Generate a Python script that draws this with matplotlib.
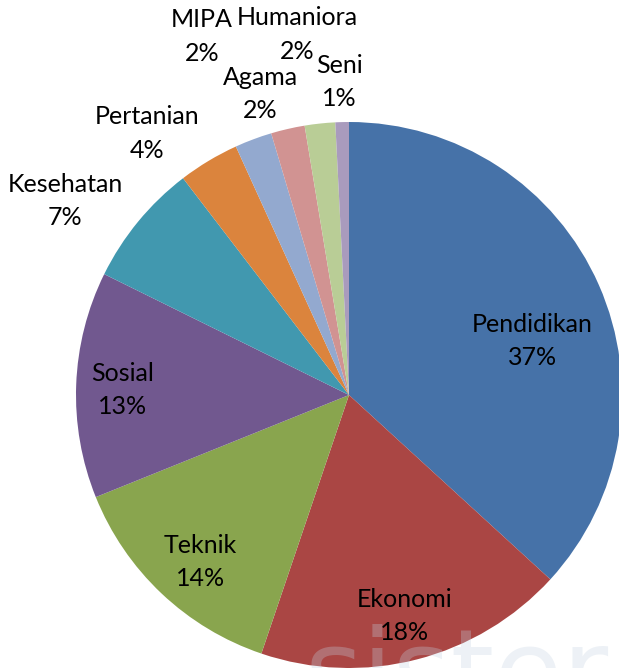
import matplotlib
matplotlib.use('Agg')
import matplotlib.pyplot as plt
import numpy as np

bidang = ['Pendidikan', 'Ekonomi', 'Teknik', 'Sosial', 'Kesehatan',
          'Pertanian', 'MIPA', 'Agama', 'Humaniora', 'Seni']
persen = [36.8, 18.4, 13.7, 13.4, 7.3, 3.6, 2.2, 2.0, 1.8, 0.8]
warna = ['#4672A8', '#AA4644', '#89A54E', '#71588F', '#4198AF',
         '#DB843D', '#93A9CF', '#D19392', '#B9CD96', '#A99BBD']

# label placement (radius factor, angle shift in degrees)
jarak = [0.70, 0.835, 0.82, 0.83, 1.26, 1.21, 1.42, 1.15, 1.335, 1.147]
geser = [-7.4, -0.3, 1.7, 0.9, 5.1, 6.7, 1.8, 3.5, 2.1, 0.3]

plt.rcParams['font.family'] = ['Lato', 'DejaVu Sans']

fig = plt.figure(figsize=(6.19, 6.68), dpi=100)
ax = fig.add_axes([76/619, 0, 546/619, 546/668])
wedges, _ = ax.pie(persen, colors=warna, startangle=90, counterclock=False,
                   radius=1, wedgeprops={'linewidth': 0})
ax.set_xlim(-1, 1)
ax.set_ylim(-1, 1)
ax.set_aspect('equal')
ax.axis('off')

total = sum(persen)
for w, nama, p, r, g in zip(wedges, bidang, persen, jarak, geser):
    sudut = np.deg2rad((w.theta1 + w.theta2) / 2 + g)
    ax.text(r * np.cos(sudut), r * np.sin(sudut),
            '%s\n%.0f%%' % (nama, p / total * 100),
            ha='center', va='center', fontsize=18, linespacing=1.55,
            color='black', clip_on=False)

# faint watermark along the bottom edge
fig.text(305/619, -40/668, 'sister', fontsize=80, color='#c4d2e2', alpha=0.3,
         family='DejaVu Sans', ha='left', va='baseline')

fig.savefig('out.png', dpi=100)
